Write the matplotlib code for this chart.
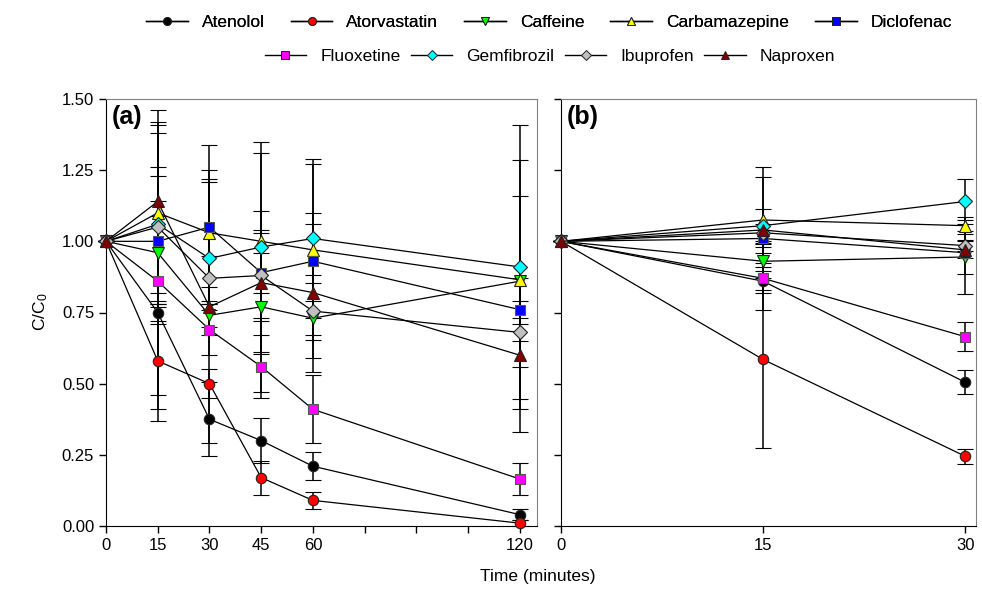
#!/usr/bin/env python3
"""
Removal of pharmaceuticals over time, C/C0 vs time, two panels:
 (a) 0-120 min, (b) 0-30 min.
Output: out.png
"""

import matplotlib
matplotlib.use("Agg")
import matplotlib.pyplot as plt
from matplotlib.lines import Line2D

# --- data ---
compounds = ["Atenolol", "Atorvastatin", "Caffeine", "Carbamazepine", "Diclofenac",
             "Fluoxetine", "Gemfibrozil", "Ibuprofen", "Naproxen"]
colors = ["#000000", "#ff0000", "#00ff00", "#ffff00", "#0000ff",
          "#ff00ff", "#00ffff", "#c0c0c0", "#800000"]
markers = ["o", "o", "v", "^", "s", "s", "D", "D", "^"]

time_a = [0, 15, 30, 45, 60, 120]
time_b = [0, 15, 30]

atenolol_a = [1.00, 0.75, 0.375, 0.30, 0.21, 0.04]
atorvastatin_a = [1.00, 0.58, 0.50, 0.17, 0.09, 0.01]
caffeine_a = [1.00, 0.96, 0.74, 0.77, 0.73, 0.86]
carbamazepine_a = [1.00, 1.10, 1.03, 1.00, 0.97, 0.865]
diclofenac_a = [1.00, 1.00, 1.05, 0.89, 0.93, 0.76]
fluoxetine_a = [1.00, 0.86, 0.69, 0.56, 0.41, 0.165]
gemfibrozil_a = [1.00, 1.06, 0.94, 0.98, 1.01, 0.91]
ibuprofen_a = [1.00, 1.05, 0.87, 0.88, 0.755, 0.68]
naproxen_a = [1.00, 1.14, 0.77, 0.855, 0.82, 0.60]

atenolol_a_err = [0, 0.34, 0.13, 0.08, 0.05, 0.02]
atorvastatin_a_err = [0, 0.21, 0.05, 0.06, 0.03, 0.01]
caffeine_a_err = [0, 0.18, 0.04, 0.05, 0.06, 0.30]
carbamazepine_a_err = [0, 0.32, 0.19, 0.04, 0.09, 0.42]
diclofenac_a_err = [0, 0.23, 0.29, 0.42, 0.34, 0.03]
fluoxetine_a_err = [0, 0.40, 0.09, 0.11, 0.12, 0.055]
gemfibrozil_a_err = [0, 0.35, 0.27, 0.37, 0.28, 0.50]
ibuprofen_a_err = [0, 0.33, 0.08, 0.15, 0.10, 0.03]
naproxen_a_err = [0, 0.32, 0.48, 0.25, 0.28, 0.27]

atenolol_b = [1.00, 0.86, 0.505]
atorvastatin_b = [1.00, 0.585, 0.245]
caffeine_b = [1.00, 0.93, 0.945]
carbamazepine_b = [1.00, 1.075, 1.055]
diclofenac_b = [1.00, 1.01, 0.96]
fluoxetine_b = [1.00, 0.87, 0.665]
gemfibrozil_b = [1.00, 1.055, 1.14]
ibuprofen_b = [1.00, 1.03, 0.985]
naproxen_b = [1.00, 1.04, 0.97]

atenolol_b_err = [0, 0.10, 0.043]
atorvastatin_b_err = [0, 0.31, 0.027]
caffeine_b_err = [0, 0.06, 0.13]
carbamazepine_b_err = [0, 0.15, 0.03]
diclofenac_b_err = [0, 0.03, 0.075]
fluoxetine_b_err = [0, 0.04, 0.05]
gemfibrozil_b_err = [0, 0.06, 0.08]
ibuprofen_b_err = [0, 0.03, 0.02]
naproxen_b_err = [0, 0.22, 0.03]

series_a = [atenolol_a, atorvastatin_a, caffeine_a, carbamazepine_a, diclofenac_a,
            fluoxetine_a, gemfibrozil_a, ibuprofen_a, naproxen_a]
errors_a = [atenolol_a_err, atorvastatin_a_err, caffeine_a_err, carbamazepine_a_err,
            diclofenac_a_err, fluoxetine_a_err, gemfibrozil_a_err, ibuprofen_a_err,
            naproxen_a_err]
series_b = [atenolol_b, atorvastatin_b, caffeine_b, carbamazepine_b, diclofenac_b,
            fluoxetine_b, gemfibrozil_b, ibuprofen_b, naproxen_b]
errors_b = [atenolol_b_err, atorvastatin_b_err, caffeine_b_err, carbamazepine_b_err,
            diclofenac_b_err, fluoxetine_b_err, gemfibrozil_b_err, ibuprofen_b_err,
            naproxen_b_err]

y_ticks = [0.00, 0.25, 0.50, 0.75, 1.00, 1.25, 1.50]


def _style():
    plt.rcParams["font.family"] = ["Liberation Sans", "DejaVu Sans"]
    plt.rcParams["mathtext.default"] = "regular"
    plt.rcParams["font.size"] = 12


def _marker_size(m):
    return {"o": 7.5, "s": 7.5, "D": 7, "^": 8.5, "v": 8.5}[m]


def draw_panel(ax, x, series, errors):
    for vals, err, c, m in zip(series, errors, colors, markers):
        ax.errorbar(x, vals, yerr=err, color="k", lw=0.9, ecolor="k", elinewidth=1.1,
                    capsize=6, capthick=1.1, marker=m, ms=_marker_size(m),
                    mfc=c, mec="#222222" if m in "oDv^" else "#555555", mew=0.8,
                    clip_on=False, zorder=3)
    ax.set_ylim(0, 1.5)
    ax.set_yticks(y_ticks)
    for side in ("top", "right"):
        ax.spines[side].set_color("#808080")
    ax.tick_params(direction="out", length=5, width=1, labelsize=12)


def main():
    _style()
    fig = plt.figure(figsize=(9.82, 6.05), dpi=100)
    ax_a = fig.add_axes([106 / 982, 1 - 526 / 605, 431 / 982, 427 / 605])
    ax_b = fig.add_axes([561 / 982, 1 - 526 / 605, 415 / 982, 427 / 605])

    # (a) 0 - 120 min
    draw_panel(ax_a, time_a, series_a, errors_a)
    ax_a.set_xlim(0, 125)
    ax_a.set_xticks([0, 15, 30, 45, 60, 75, 90, 105, 120])
    ax_a.set_xticklabels(["0", "15", "30", "45", "60", "", "", "", "120"])
    ax_a.set_yticklabels([f"{v:.2f}" for v in y_ticks])
    ax_a.text(0.013, 0.985, "(a)", transform=ax_a.transAxes, ha="left", va="top",
              fontsize=18, fontweight="bold")

    # (b) 0 - 30 min
    draw_panel(ax_b, time_b, series_b, errors_b)
    ax_b.set_xlim(0, 30.8)
    ax_b.set_xticks([0, 15, 30])
    ax_b.set_yticklabels([])
    ax_b.text(0.013, 0.985, "(b)", transform=ax_b.transAxes, ha="left", va="top",
              fontsize=18, fontweight="bold")

    fig.text(0.548, 1 - 577 / 605, "Time (minutes)", ha="center", va="center", fontsize=12.5)
    fig.text(0.041, 1 - 312 / 605, "C/C$_0$", ha="center", va="center", rotation=90,
             fontsize=12.5)

    # legend in two centred rows
    handles = [Line2D([], [], color="k", lw=1, marker=m, ms=_marker_size(m) * 0.75,
                      mfc=c, mec="#222222", mew=0.7)
               for c, m in zip(colors, markers)]
    kw = dict(frameon=False, fontsize=12.5, handlelength=2.4, handletextpad=0.8,
              borderaxespad=0, loc="center")
    leg1 = fig.legend(handles[:5], compounds[:5], ncol=5, columnspacing=1.5,
                      bbox_to_anchor=(549 / 982, 1 - 22 / 605), **kw)
    fig.add_artist(leg1)
    fig.legend(handles[5:], compounds[5:], ncol=4, columnspacing=0.6,
               bbox_to_anchor=(550 / 982, 1 - 56 / 605), **kw)

    fig.savefig("out.png", dpi=100)
    plt.close(fig)
    print("WROTE out.png")


if __name__ == "__main__":
    main()
